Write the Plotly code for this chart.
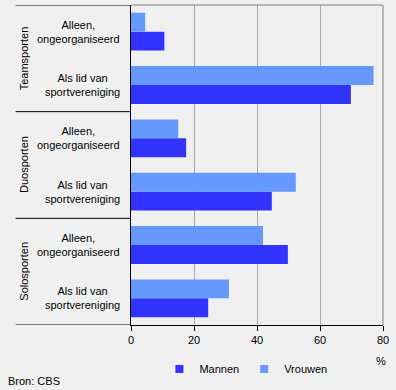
import plotly.graph_objects as go

groups = ["Teamsporten", "Duosporten", "Solosporten"]
subcats = ["Alleen,<br>ongeorganiseerd", "Als lid van<br>sportvereniging"]
mannen = [10.6, 69.8, 17.5, 44.7, 49.8, 24.5]
vrouwen = [4.5, 77.0, 15.0, 52.3, 41.9, 31.1]
x_ticks = [0, 20, 40, 60, 80]
series_names = ["Mannen", "Vrouwen"]
colors = ["#3333ff", "#6699ff"]

n = len(groups) * len(subcats)
rows = [(g, s) for g in groups for s in subcats]
pos = [n - 1 - i for i in range(n)]

FONT = dict(family="Liberation Sans, Arial, sans-serif", size=11, color="black")

fig = go.Figure()
for name, vals, col in zip(series_names, [mannen, vrouwen], colors):
    fig.add_trace(go.Bar(
        y=pos, x=vals, orientation="h", name=name,
        marker=dict(color=col, line=dict(width=0)),
        showlegend=False, hoverinfo="x+name",
    ))
# legend entries with small square swatches
for name, col in zip(series_names, colors):
    fig.add_trace(go.Scatter(
        x=[None], y=[None], mode="markers", name=name,
        marker=dict(symbol="square", size=8, color=col),
    ))

annotations = []
for (g, s), p in zip(rows, pos):
    annotations.append(dict(
        x=0, xref="paper", y=p, yref="y", text=s, showarrow=False,
        xanchor="right", yanchor="middle", xshift=-9, align="center", font=FONT,
    ))
ng = len(subcats)
shapes = []
for gi, g in enumerate(groups):
    gpos = pos[gi * ng:(gi + 1) * ng]
    center = sum(gpos) / len(gpos)
    annotations.append(dict(
        x=0, xref="paper", y=center, yref="y", text=g, showarrow=False,
        textangle=-90, xanchor="center", yanchor="middle", xshift=-107, font=FONT,
    ))
    top = max(gpos) + 0.5
    shapes.append(dict(type="line", xref="paper", yref="y", x0=-0.458, x1=0,
                       y0=top, y1=top, line=dict(color="black", width=1)))
bottom = min(pos) - 0.5
shapes.append(dict(type="line", xref="paper", yref="y", x0=-0.458, x1=0,
                   y0=bottom, y1=bottom, line=dict(color="black", width=1)))
# gray top and right border of plot area
shapes.append(dict(type="line", xref="paper", yref="paper", x0=0, x1=1, y0=1, y1=1,
                   line=dict(color="#808080", width=1)))
shapes.append(dict(type="line", xref="paper", yref="paper", x0=1, x1=1, y0=0, y1=1,
                   line=dict(color="#808080", width=1)))

annotations.append(dict(x=1, xref="paper", y=-0.113, yref="paper", text="%",
                        showarrow=False, xanchor="center", yanchor="middle",
                        xshift=-2, font=FONT))
annotations.append(dict(x=-0.498, xref="paper", y=-0.175, yref="paper", text="Bron: CBS",
                        showarrow=False, xanchor="left", yanchor="middle", font=FONT))

fig.update_layout(
    width=396, height=390,
    margin=dict(l=131, r=13, t=5, b=65),
    paper_bgcolor="#f0f0f0", plot_bgcolor="#f0f0f0",
    font=FONT,
    barmode="group", bargap=0.29, bargroupgap=0,
    xaxis=dict(range=[0, 80], tickvals=x_ticks, showgrid=True, gridcolor="#a8a8a8",
               gridwidth=1, zeroline=False, showline=True, linecolor="black",
               linewidth=1, ticks="outside", ticklen=5, tickcolor="black",
               fixedrange=True),
    yaxis=dict(range=[-0.5, n - 0.5], showticklabels=False, showgrid=False,
               zeroline=False, showline=True, linecolor="black", linewidth=1,
               ticks="", fixedrange=True),
    legend=dict(orientation="h", x=0.456, xanchor="center", y=-0.1375,
                yanchor="middle", font=FONT, bgcolor="rgba(0,0,0,0)",
                itemwidth=30, tracegroupgap=0),
    annotations=annotations, shapes=shapes,
    showlegend=True,
)

fig.write_html(
    "out.html",
    config={"displayModeBar": False},
    post_script="document.body.style.margin='0';document.body.style.overflow='hidden';",
)
